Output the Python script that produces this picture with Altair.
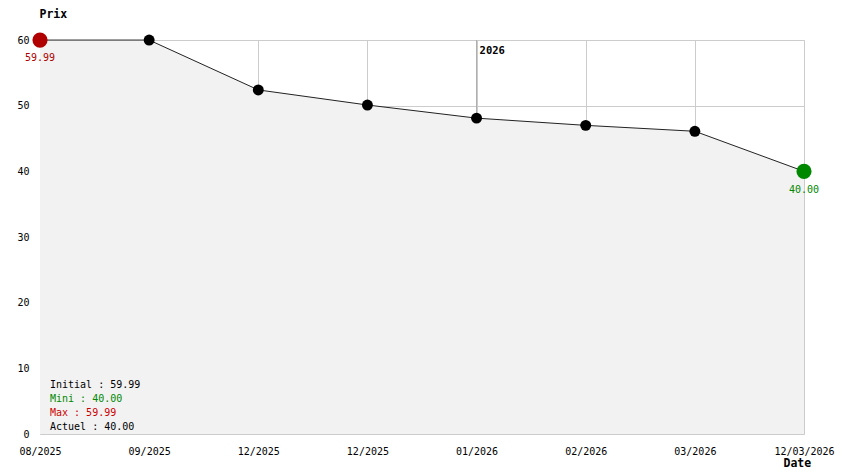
import altair as alt
import pandas as pd

dates = ["08/2025", "09/2025", "12/2025", "12/2025", "01/2026", "02/2026", "03/2026", "12/03/2026"]
prices = [59.99, 59.99, 52.4, 50.1, 48.1, 47.0, 46.1, 40.00]
summary_labels = ["Initial : 59.99", "Mini : 40.00", "Max : 59.99", "Actuel : 40.00"]
summary_colors = ["#000000", "#008800", "#cc0000", "#000000"]
year_mark = "2026"
year_index = 4

FONT = "DejaVu Sans Mono"
RED = "#b00000"
GREEN = "#008800"

df = pd.DataFrame({"i": list(range(len(dates))), "date": dates, "price": prices})
label_expr = "[" + ",".join(f"'{d}'" for d in dates) + "][datum.value]"

x_enc = alt.X("i:Q", scale=alt.Scale(domain=[0, len(dates) - 1], nice=False, zero=False),
              axis=alt.Axis(values=list(range(len(dates))), labelExpr=label_expr, title="Date",
                            grid=True, gridColor="#cccccc", domain=False, ticks=False, tickSize=0,
                            labelPadding=12, labelOverlap=False, labelFlush=False, labelBound=False,
                            labelFont=FONT, labelFontSize=10, labelColor="#000000",
                            titleFont=FONT, titleFontSize=11.5, titleFontWeight="bold",
                            titleAlign="left", titleBaseline="middle", titleX=743, titleY=29))
y_enc = alt.Y("price:Q", scale=alt.Scale(domain=[0, 60], nice=False),
              axis=alt.Axis(values=[0, 10, 20, 30, 40, 50, 60], title="Prix", grid=True,
                            gridColor="#cccccc", domain=False, ticks=False, tickSize=0,
                            labelPadding=11, labelFont=FONT, labelFontSize=10, labelColor="#000000",
                            titleFont=FONT, titleFontSize=11.5, titleFontWeight="bold",
                            titleAngle=0, titleAlign="left", titleBaseline="middle",
                            titleX=-1, titleY=-26))

base = alt.Chart(df)

yr = pd.DataFrame({"i": [year_index], "t": [year_mark]})
year_rule = alt.Chart(yr).mark_rule(color="#aaaaaa", strokeWidth=1).encode(
    x=alt.X("i:Q"), y=alt.value(0), y2=alt.value(394))

area = base.mark_area(color="#f2f2f2", opacity=1).encode(x=x_enc, y=y_enc)
line = base.mark_line(color="#222222", strokeWidth=1).encode(x="i:Q", y="price:Q")
pts = base.mark_circle(color="#000000", size=120, opacity=1).encode(x="i:Q", y="price:Q")

first = df.iloc[[0]]
last = df.iloc[[-1]]
p_first = alt.Chart(first).mark_circle(color=RED, size=230, opacity=1).encode(x="i:Q", y="price:Q")
p_last = alt.Chart(last).mark_circle(color=GREEN, size=230, opacity=1).encode(x="i:Q", y="price:Q")
t_first = alt.Chart(first).mark_text(color=RED, font=FONT, fontSize=10, dy=18, baseline="middle").encode(
    x="i:Q", y="price:Q", text=alt.Text("price:Q", format=".2f"))
t_last = alt.Chart(last).mark_text(color=GREEN, font=FONT, fontSize=10, dy=19, baseline="middle").encode(
    x="i:Q", y="price:Q", text=alt.Text("price:Q", format=".2f"))

year_text = alt.Chart(yr).mark_text(font=FONT, fontSize=10.5, fontWeight="bold", align="left",
                                    baseline="middle", dx=3, color="#000000").encode(
    x="i:Q", y=alt.value(11), text="t:N")

summary_layers = []
for k, (t, c) in enumerate(zip(summary_labels, summary_colors)):
    sdf = pd.DataFrame({"t": [t]})
    summary_layers.append(
        alt.Chart(sdf).mark_text(font=FONT, fontSize=10, align="left", baseline="middle", color=c).encode(
            x=alt.value(10), y=alt.value(345 + 14 * k), text="t:N")
    )

chart = alt.layer(year_rule, area, line, pts, p_first, p_last, t_first, t_last, year_text,
                  *summary_layers).properties(
    width=764, height=394,
    autosize=alt.AutoSizeParams(type="none"),
    padding={"left": 32, "top": 32, "right": 32, "bottom": 36},
).configure_view(stroke=None).configure(background="#ffffff")

chart.save("out.html", embed_options={"renderer": "svg", "actions": False})
